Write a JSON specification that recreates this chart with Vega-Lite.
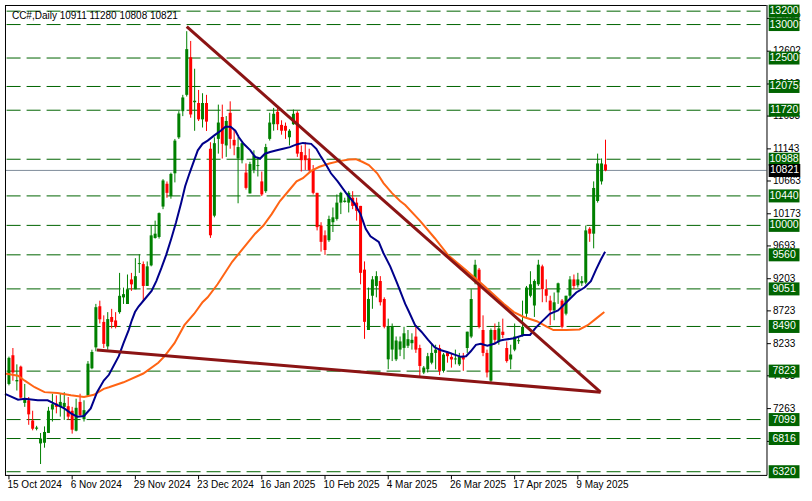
{
"$schema":"https://vega.github.io/schema/vega-lite/v6.json",
"width":812,"height":501,"autosize":"none",
"padding":0,
"background":"#ffffff",
"config":{"view":{"stroke":null},"font":"Liberation Sans"},
"datasets":{
"candles":[
{"i":0,"o":7631,"h":8040,"l":7610,"c":8021},{"i":1,"o":8060,"h":8168,"l":7680,"c":7802},{"i":2,"o":7670,"h":7924,"l":7533,"c":7690},{"i":3,"o":7890,"h":7905,"l":7412,"c":7426},{"i":4,"o":7348,"h":7631,"l":7289,"c":7397},{"i":5,"o":7387,"h":7436,"l":7021,"c":7177},{"i":6,"o":7084,"h":7231,"l":6938,"c":6962},{"i":7,"o":6962,"h":7006,"l":6938,"c":6980},{"i":8,"o":6743,"h":6899,"l":6435,"c":6816},{"i":9,"o":6753,"h":6997,"l":6679,"c":6914},
{"i":10,"o":6899,"h":7289,"l":6899,"c":7231},{"i":11,"o":7250,"h":7485,"l":7070,"c":7328},{"i":12,"o":7338,"h":7460,"l":7192,"c":7289},{"i":13,"o":7289,"h":7485,"l":7143,"c":7363},{"i":14,"o":7289,"h":7509,"l":7094,"c":7348},{"i":15,"o":7299,"h":7436,"l":7094,"c":7143},{"i":16,"o":7231,"h":7289,"l":6889,"c":6948},{"i":17,"o":6933,"h":7411,"l":6923,"c":7275},{"i":18,"o":7363,"h":7485,"l":7143,"c":7167},{"i":19,"o":7104,"h":7387,"l":7070,"c":7240},
{"i":20,"o":7460,"h":7973,"l":7436,"c":7934},{"i":21,"o":7865,"h":8143,"l":7851,"c":8109},{"i":22,"o":8178,"h":8827,"l":8119,"c":8778},{"i":23,"o":8792,"h":8875,"l":8534,"c":8597},{"i":24,"o":8558,"h":8656,"l":8168,"c":8230},{"i":25,"o":8192,"h":8704,"l":8143,"c":8600},{"i":26,"o":8631,"h":8753,"l":8461,"c":8558},{"i":27,"o":8580,"h":8704,"l":8461,"c":8485},{"i":28,"o":8704,"h":9290,"l":8680,"c":8948},{"i":29,"o":8924,"h":9070,"l":8826,"c":8973},
{"i":30,"o":8826,"h":9266,"l":8826,"c":9046},{"i":31,"o":9192,"h":9290,"l":9022,"c":9119},{"i":32,"o":9046,"h":9510,"l":9046,"c":9241},{"i":33,"o":9422,"h":9568,"l":9290,"c":9436},{"i":34,"o":9422,"h":9461,"l":8865,"c":9095},{"i":35,"o":9095,"h":9461,"l":9095,"c":9388},{"i":36,"o":9402,"h":9998,"l":9388,"c":9851},{"i":37,"o":9812,"h":10071,"l":9802,"c":9876},{"i":38,"o":9827,"h":10193,"l":9802,"c":10183},{"i":39,"o":10281,"h":10691,"l":10242,"c":10671},
{"i":40,"o":10622,"h":10656,"l":10412,"c":10486},{"i":41,"o":10437,"h":10788,"l":10398,"c":10769},{"i":42,"o":10778,"h":11291,"l":10642,"c":11266},{"i":43,"o":11315,"h":11706,"l":11291,"c":11671},{"i":44,"o":11706,"h":11950,"l":11632,"c":11911},{"i":45,"o":11950,"h":12901,"l":11925,"c":12633},{"i":46,"o":12511,"h":12755,"l":11608,"c":11657},{"i":47,"o":11840,"h":12340,"l":11413,"c":11862},{"i":48,"o":11828,"h":12023,"l":11559,"c":11584},{"i":49,"o":11584,"h":11974,"l":11462,"c":11828},
{"i":50,"o":11828,"h":11950,"l":11410,"c":11550},{"i":51,"o":11145,"h":11242,"l":9813,"c":9852},{"i":52,"o":10145,"h":11316,"l":10120,"c":11228},{"i":53,"o":11292,"h":11804,"l":11072,"c":11536},{"i":54,"o":11619,"h":11804,"l":10999,"c":11218},{"i":55,"o":11194,"h":11633,"l":11023,"c":11560},{"i":56,"o":11682,"h":11853,"l":11145,"c":11292},{"i":57,"o":11277,"h":11438,"l":11048,"c":11194},{"i":58,"o":10999,"h":11316,"l":10330,"c":11170},{"i":59,"o":10974,"h":11243,"l":10926,"c":11228},
{"i":60,"o":10789,"h":10926,"l":10535,"c":10560},{"i":61,"o":10477,"h":10950,"l":10477,"c":10916},{"i":62,"o":10828,"h":11121,"l":10779,"c":11048},{"i":63,"o":10886,"h":11023,"l":10730,"c":10900},{"i":64,"o":10657,"h":10804,"l":10438,"c":10462},{"i":65,"o":10511,"h":11218,"l":10486,"c":11170},{"i":66,"o":11292,"h":11682,"l":11267,"c":11536},{"i":67,"o":11511,"h":11755,"l":11414,"c":11667},{"i":68,"o":11697,"h":11755,"l":11423,"c":11511},{"i":69,"o":11501,"h":11570,"l":11355,"c":11414},
{"i":70,"o":11487,"h":11536,"l":11292,"c":11414},{"i":71,"o":11316,"h":11438,"l":11194,"c":11414},{"i":72,"o":11511,"h":11731,"l":11501,"c":11667},{"i":73,"o":11682,"h":11706,"l":11023,"c":11072},{"i":74,"o":11096,"h":11194,"l":10804,"c":10974},{"i":75,"o":11048,"h":11243,"l":10828,"c":10974},{"i":76,"o":10999,"h":11145,"l":10804,"c":10828},{"i":77,"o":10828,"h":10901,"l":10462,"c":10486},{"i":78,"o":10486,"h":10486,"l":9925,"c":9974},{"i":79,"o":9998,"h":10047,"l":9608,"c":9754},
{"i":80,"o":9852,"h":9925,"l":9559,"c":9632},{"i":81,"o":9779,"h":10145,"l":9754,"c":10096},{"i":82,"o":10047,"h":10267,"l":9901,"c":10120},{"i":83,"o":10096,"h":10462,"l":10071,"c":10340},{"i":84,"o":10340,"h":10501,"l":10169,"c":10486},{"i":85,"o":10350,"h":10413,"l":10340,"c":10370},{"i":86,"o":10340,"h":10511,"l":10193,"c":10486},{"i":87,"o":10413,"h":10511,"l":10242,"c":10291},{"i":88,"o":10340,"h":10413,"l":10071,"c":10218},{"i":89,"o":10291,"h":10291,"l":9120,"c":9291},
{"i":90,"o":9339,"h":9462,"l":8305,"c":8559},{"i":91,"o":8437,"h":9071,"l":8437,"c":8901},{"i":92,"o":8949,"h":9242,"l":8754,"c":9193},{"i":93,"o":9095,"h":9315,"l":8925,"c":9242},{"i":94,"o":9169,"h":9242,"l":8803,"c":8852},{"i":95,"o":8900,"h":8925,"l":8461,"c":8485},{"i":96,"o":7999,"h":8607,"l":7851,"c":8485},{"i":97,"o":8145,"h":8534,"l":7973,"c":8485},{"i":98,"o":7999,"h":8340,"l":7973,"c":8280},{"i":99,"o":8145,"h":8340,"l":8047,"c":8267},
{"i":100,"o":8170,"h":8485,"l":8000,"c":8388},{"i":101,"o":8202,"h":8437,"l":8168,"c":8300},{"i":102,"o":8240,"h":8388,"l":8144,"c":8290},{"i":103,"o":8339,"h":8510,"l":8095,"c":8144},{"i":104,"o":8168,"h":8217,"l":7744,"c":7900},{"i":105,"o":7802,"h":7900,"l":7778,"c":7876},{"i":106,"o":7851,"h":8095,"l":7802,"c":8046},{"i":107,"o":7949,"h":8241,"l":7924,"c":8095},{"i":108,"o":8095,"h":8217,"l":7851,"c":8144},{"i":109,"o":8168,"h":8217,"l":7763,"c":7827},
{"i":110,"o":7827,"h":8095,"l":7802,"c":8071},{"i":111,"o":8095,"h":8120,"l":7949,"c":8046},{"i":112,"o":8036,"h":8095,"l":7875,"c":7997},{"i":113,"o":7997,"h":8144,"l":7924,"c":8012},{"i":114,"o":7924,"h":8095,"l":7900,"c":8036},{"i":115,"o":8046,"h":8095,"l":7827,"c":7997},{"i":116,"o":8168,"h":8412,"l":8095,"c":8412},{"i":117,"o":8339,"h":9047,"l":8315,"c":8900},{"i":118,"o":9169,"h":9486,"l":9120,"c":9412},{"i":119,"o":9339,"h":9364,"l":8461,"c":8485},
{"i":120,"o":8437,"h":8656,"l":8046,"c":8095},{"i":121,"o":8095,"h":8144,"l":7729,"c":7802},{"i":122,"o":7680,"h":8461,"l":7632,"c":8437},{"i":123,"o":8437,"h":8534,"l":8217,"c":8290},{"i":124,"o":8266,"h":8559,"l":8217,"c":8461},{"i":125,"o":8412,"h":8607,"l":8315,"c":8363},{"i":126,"o":8168,"h":8266,"l":7949,"c":7973},{"i":127,"o":7997,"h":8217,"l":7851,"c":8071},{"i":128,"o":8144,"h":8534,"l":8120,"c":8339},{"i":129,"o":8270,"h":8330,"l":8230,"c":8285},
{"i":130,"o":8363,"h":8876,"l":8339,"c":8485},{"i":131,"o":8681,"h":9095,"l":8632,"c":9071},{"i":132,"o":8949,"h":9315,"l":8925,"c":9120},{"i":133,"o":8803,"h":9193,"l":8632,"c":9169},{"i":134,"o":9120,"h":9486,"l":9095,"c":9413},{"i":135,"o":9388,"h":9413,"l":8852,"c":9047},{"i":136,"o":9047,"h":9193,"l":8852,"c":8949},{"i":137,"o":8876,"h":8949,"l":8510,"c":8730},{"i":138,"o":8730,"h":8998,"l":8583,"c":8851},{"i":139,"o":8998,"h":9145,"l":8827,"c":9135},
{"i":140,"o":8876,"h":8900,"l":8461,"c":8485},{"i":141,"o":8681,"h":8949,"l":8656,"c":8949},{"i":142,"o":8949,"h":9242,"l":8900,"c":9193},{"i":143,"o":9193,"h":9266,"l":9047,"c":9095},{"i":144,"o":9105,"h":9291,"l":9071,"c":9193},{"i":145,"o":9135,"h":9242,"l":9095,"c":9169},{"i":146,"o":9145,"h":9998,"l":9120,"c":9925},{"i":147,"o":9950,"h":9974,"l":9754,"c":9876},{"i":148,"o":9876,"h":10657,"l":9657,"c":10559},{"i":149,"o":10364,"h":11072,"l":10340,"c":10925},
{"i":150,"o":10657,"h":11000,"l":10610,"c":10925},{"i":151,"o":10911,"h":11280,"l":10808,"c":10821}
],
"fast":[
{"i":-1,"v":7484},{"i":2.3,"v":7397},{"i":4,"v":7411},{"i":7.3,"v":7388},{"i":9.8,"v":7388},{"i":11.5,"v":7338},{"i":14,"v":7265},{"i":15.7,"v":7192},{"i":17.3,"v":7143},{"i":19,"v":7153},{"i":20.7,"v":7265},{"i":22.3,"v":7509},{"i":24,"v":7681},{"i":25.3,"v":7768},{"i":27.8,"v":8046},{"i":29,"v":8241},{"i":30.3,"v":8436},{"i":31.1,"v":8582},{"i":31.9,"v":8705},{"i":32.8,"v":8787},{"i":34.4,"v":8900},{"i":36.1,"v":9022},{"i":37.3,"v":9168},{"i":38.6,"v":9364},{"i":39.8,"v":9559},{"i":41.1,"v":9803},{"i":42.3,"v":10046},{"i":43.6,"v":10339},{"i":44.6,"v":10584},{"i":45.7,"v":10778},{"i":46.9,"v":10975},{"i":47.8,"v":11121},{"i":49,"v":11218},{"i":50.3,"v":11267},{"i":51.9,"v":11340},{"i":53.6,"v":11414},{"i":54.8,"v":11472},{"i":56.1,"v":11472},{"i":57.3,"v":11414},{"i":58.2,"v":11316},{"i":59.4,"v":11218},{"i":61.1,"v":11121},{"i":62.3,"v":11023},{"i":63.6,"v":10998},{"i":64.8,"v":11071},{"i":66.1,"v":11096},{"i":67.8,"v":11121},{"i":69.4,"v":11144},{"i":71.1,"v":11169},{"i":72.8,"v":11209},{"i":74.4,"v":11232},{"i":76.5,"v":11218},{"i":77.8,"v":11144},{"i":79,"v":11023},{"i":80.3,"v":10901},{"i":81.5,"v":10778},{"i":83.2,"v":10657},{"i":85.3,"v":10485},{"i":87.3,"v":10339},{"i":89,"v":10169},{"i":90.3,"v":9950},{"i":91.5,"v":9837},{"i":93.6,"v":9754},{"i":94.8,"v":9584},{"i":96.5,"v":9388},{"i":98.2,"v":9144},{"i":100.3,"v":8827},{"i":101.1,"v":8729},{"i":102.8,"v":8509},{"i":104.4,"v":8412},{"i":106.1,"v":8289},{"i":107.8,"v":8178},{"i":109.4,"v":8134},{"i":111.1,"v":8105},{"i":112.8,"v":8070},{"i":114.4,"v":8036},{"i":115.7,"v":8046},{"i":116.9,"v":8119},{"i":118.2,"v":8216},{"i":119.4,"v":8231},{"i":121.1,"v":8202},{"i":122.8,"v":8231},{"i":124.4,"v":8281},{"i":125.3,"v":8290},{"i":127.8,"v":8314},{"i":130.3,"v":8363},{"i":131.9,"v":8363},{"i":133.2,"v":8461},{"i":134.8,"v":8559},{"i":136.9,"v":8680},{"i":139,"v":8729},{"i":141.1,"v":8852},{"i":143.6,"v":8998},{"i":145.7,"v":9071},{"i":147.3,"v":9168},{"i":148.6,"v":9339},{"i":149.8,"v":9486},{"i":150.9,"v":9607}
],
"slow":[
{"i":-1,"v":7787},{"i":2.3,"v":7754},{"i":4,"v":7680},{"i":6.5,"v":7582},{"i":9,"v":7509},{"i":12.3,"v":7495},{"i":15.7,"v":7461},{"i":19,"v":7436},{"i":21.5,"v":7470},{"i":24,"v":7558},{"i":25.3,"v":7582},{"i":29,"v":7656},{"i":34,"v":7787},{"i":37.8,"v":7948},{"i":39.4,"v":8046},{"i":41.9,"v":8241},{"i":44.4,"v":8509},{"i":46.9,"v":8680},{"i":49,"v":8852},{"i":50.3,"v":8925},{"i":52.8,"v":9120},{"i":56.5,"v":9456},{"i":60.3,"v":9730},{"i":62.3,"v":9876},{"i":64.4,"v":9998},{"i":66.5,"v":10169},{"i":68.6,"v":10364},{"i":70.7,"v":10510},{"i":72.8,"v":10657},{"i":74.4,"v":10705},{"i":76.5,"v":10813},{"i":78.6,"v":10876},{"i":81.1,"v":10925},{"i":83.6,"v":10960},{"i":86.1,"v":10983},{"i":87.8,"v":10989},{"i":89.4,"v":10950},{"i":91.1,"v":10901},{"i":93.2,"v":10778},{"i":94.8,"v":10632},{"i":96.9,"v":10486},{"i":99,"v":10364},{"i":100.3,"v":10305},{"i":104,"v":10071},{"i":107.8,"v":9808},{"i":111.1,"v":9559},{"i":115.5,"v":9339},{"i":120.3,"v":9095},{"i":122.8,"v":8959},{"i":125.3,"v":8827},{"i":127.8,"v":8705},{"i":130.3,"v":8632},{"i":133.6,"v":8568},{"i":136.1,"v":8486},{"i":137.8,"v":8436},{"i":141.1,"v":8436},{"i":144.4,"v":8446},{"i":146.5,"v":8509},{"i":148.6,"v":8607},{"i":150.7,"v":8705}
],
"trend":[
{"line":"upper","i":45,"v":12970},{"line":"upper","i":149.75,"v":7509},
{"line":"lower","i":22.25,"v":8139},{"line":"lower","i":149.75,"v":7509}
],
"levels":[{"v":13200},{"v":13000},{"v":12500},{"v":12075},{"v":11720},{"v":10988},{"v":10440},{"v":10000},{"v":9560},{"v":9051},{"v":8490},{"v":7823},{"v":7099},{"v":6816},{"v":6320}],
"price":[{"v":10821}],
"yticks":[{"v":6773},{"v":7263},{"v":7753},{"v":8233},{"v":8723},{"v":9203},{"v":9693},{"v":10173},{"v":10663},{"v":11143},{"v":11633},{"v":12112},{"v":12602},{"v":13092}],
"xticks":[{"i":0,"d":"15 Oct 2024"},{"i":16,"d":"6 Nov 2024"},{"i":32,"d":"29 Nov 2024"},{"i":48,"d":"23 Dec 2024"},{"i":64,"d":"16 Jan 2025"},{"i":80,"d":"10 Feb 2025"},{"i":96,"d":"4 Mar 2025"},{"i":112,"d":"26 Mar 2025"},{"i":128,"d":"17 Apr 2025"},{"i":144,"d":"9 May 2025"}]
},
"layer":[
{"data":{"name":"levels"},
 "mark":{"type":"rule","stroke":"#006400","strokeWidth":1,"strokeDash":[14,6]},
 "encoding":{
  "x":{"datum":-0.6,"type":"quantitative","scale":{"domain":[-1,202],"nice":false,"zero":false},"axis":null},
  "x2":{"datum":191.75},
  "y":{"field":"v","type":"quantitative","scale":{"domain":[5957.4,13292],"nice":false,"zero":false},"axis":null}}},
{"data":{"name":"price"},
 "mark":{"type":"rule","stroke":"#7f8c9a","strokeWidth":1},
 "encoding":{
  "x":{"datum":-1,"type":"quantitative","scale":{"domain":[-1,202],"nice":false,"zero":false},"axis":null},
  "x2":{"datum":191.75},
  "y":{"field":"v","type":"quantitative","scale":{"domain":[5957.4,13292],"nice":false,"zero":false},"axis":null}}},
{"data":{"name":"candles"},
 "mark":{"type":"rule","strokeWidth":1},
 "encoding":{
  "x":{"field":"i","type":"quantitative","scale":{"domain":[-1,202],"nice":false,"zero":false},"axis":null},
  "y":{"field":"l","type":"quantitative","scale":{"domain":[5957.4,13292],"nice":false,"zero":false},"axis":null},
  "y2":{"field":"h"},
  "color":{"condition":{"test":"datum.c >= datum.o","value":"#008000"},"value":"#ff0000"}}},
{"data":{"name":"candles"},
 "mark":{"type":"bar","width":3},
 "encoding":{
  "x":{"field":"i","type":"quantitative","scale":{"domain":[-1,202],"nice":false,"zero":false},"axis":null},
  "y":{"field":"o","type":"quantitative","scale":{"domain":[5957.4,13292],"nice":false,"zero":false},"axis":null},
  "y2":{"field":"c"},
  "color":{"condition":{"test":"datum.c >= datum.o","value":"#008000"},"value":"#ff0000"}}},
{"data":{"name":"slow"},
 "mark":{"type":"line","stroke":"#ff6414","strokeWidth":2},
 "encoding":{
  "x":{"field":"i","type":"quantitative","scale":{"domain":[-1,202],"nice":false,"zero":false},"axis":null},
  "y":{"field":"v","type":"quantitative","scale":{"domain":[5957.4,13292],"nice":false,"zero":false},"axis":null}}},
{"data":{"name":"fast"},
 "mark":{"type":"line","stroke":"#00008b","strokeWidth":2},
 "encoding":{
  "x":{"field":"i","type":"quantitative","scale":{"domain":[-1,202],"nice":false,"zero":false},"axis":null},
  "y":{"field":"v","type":"quantitative","scale":{"domain":[5957.4,13292],"nice":false,"zero":false},"axis":null}}},
{"data":{"name":"trend"},
 "mark":{"type":"line","stroke":"#8b1414","strokeWidth":3},
 "encoding":{
  "x":{"field":"i","type":"quantitative","scale":{"domain":[-1,202],"nice":false,"zero":false},"axis":null},
  "y":{"field":"v","type":"quantitative","scale":{"domain":[5957.4,13292],"nice":false,"zero":false},"axis":null},
  "detail":{"field":"line"}}},
{"data":{"values":[{"side":"top"}]},
 "mark":{"type":"rule","stroke":"#000000","strokeWidth":1},
 "encoding":{
  "x":{"datum":-1,"type":"quantitative","scale":{"domain":[-1,202],"nice":false,"zero":false},"axis":null},
  "x2":{"datum":191.75},
  "y":{"datum":13284.7,"type":"quantitative","scale":{"domain":[5957.4,13292],"nice":false,"zero":false},"axis":null}}},
{"data":{"values":[{"side":"bottom"}]},
 "mark":{"type":"rule","stroke":"#000000","strokeWidth":1},
 "encoding":{
  "x":{"datum":-1,"type":"quantitative","scale":{"domain":[-1,202],"nice":false,"zero":false},"axis":null},
  "x2":{"datum":191.875},
  "y":{"datum":6265,"type":"quantitative","scale":{"domain":[5957.4,13292],"nice":false,"zero":false},"axis":null}}},
{"data":{"values":[{"side":"left"}]},
 "mark":{"type":"rule","stroke":"#000000","strokeWidth":1},
 "encoding":{
  "x":{"datum":-0.875,"type":"quantitative","scale":{"domain":[-1,202],"nice":false,"zero":false},"axis":null},
  "y":{"datum":13292,"type":"quantitative","scale":{"domain":[5957.4,13292],"nice":false,"zero":false},"axis":null},
  "y2":{"datum":6265}}},
{"data":{"values":[{"side":"right"}]},
 "mark":{"type":"rule","stroke":"#000000","strokeWidth":1},
 "encoding":{
  "x":{"datum":191.875,"type":"quantitative","scale":{"domain":[-1,202],"nice":false,"zero":false},"axis":null},
  "y":{"datum":13292,"type":"quantitative","scale":{"domain":[5957.4,13292],"nice":false,"zero":false},"axis":null},
  "y2":{"datum":6265}}},
{"data":{"name":"yticks"},
 "mark":{"type":"rule","stroke":"#000000","strokeWidth":1},
 "encoding":{
  "x":{"datum":191.875,"type":"quantitative","scale":{"domain":[-1,202],"nice":false,"zero":false},"axis":null},
  "x2":{"datum":192.875},
  "y":{"field":"v","type":"quantitative","scale":{"domain":[5957.4,13292],"nice":false,"zero":false},"axis":null}}},
{"data":{"name":"yticks"},
 "mark":{"type":"text","fill":"#000000","font":"Liberation Sans","fontSize":10,"align":"left","baseline":"middle"},
 "encoding":{
  "x":{"datum":193.4,"type":"quantitative","scale":{"domain":[-1,202],"nice":false,"zero":false},"axis":null},
  "y":{"field":"v","type":"quantitative","scale":{"domain":[5957.4,13292],"nice":false,"zero":false},"axis":null},
  "text":{"field":"v","type":"quantitative","format":"d"}}},
{"data":{"name":"xticks"},
 "mark":{"type":"rule","stroke":"#000000","strokeWidth":1},
 "encoding":{
  "x":{"field":"i","type":"quantitative","scale":{"domain":[-1,202],"nice":false,"zero":false},"axis":null},
  "y":{"datum":6265,"type":"quantitative","scale":{"domain":[5957.4,13292],"nice":false,"zero":false},"axis":null},
  "y2":{"datum":6206}}},
{"data":{"name":"xticks"},
 "mark":{"type":"text","fill":"#000000","font":"Liberation Sans","fontSize":10,"align":"left","baseline":"middle","dx":-1.5},
 "encoding":{
  "x":{"field":"i","type":"quantitative","scale":{"domain":[-1,202],"nice":false,"zero":false},"axis":null},
  "y":{"datum":6118,"type":"quantitative","scale":{"domain":[5957.4,13292],"nice":false,"zero":false},"axis":null},
  "text":{"field":"d"}}},
{"data":{"name":"levels"},
 "mark":{"type":"bar","orient":"horizontal","height":13,"color":"#006400"},
 "encoding":{
  "x":{"datum":192.3,"type":"quantitative","scale":{"domain":[-1,202],"nice":false,"zero":false},"axis":null},
  "x2":{"datum":200.1},
  "y":{"field":"v","type":"quantitative","scale":{"domain":[5957.4,13292],"nice":false,"zero":false},"axis":null}}},
{"data":{"name":"price"},
 "mark":{"type":"bar","orient":"horizontal","height":13,"color":"#000000"},
 "encoding":{
  "x":{"datum":192.3,"type":"quantitative","scale":{"domain":[-1,202],"nice":false,"zero":false},"axis":null},
  "x2":{"datum":200.3},
  "y":{"field":"v","type":"quantitative","scale":{"domain":[5957.4,13292],"nice":false,"zero":false},"axis":null}}},
{"data":{"name":"levels"},
 "mark":{"type":"text","fill":"#ffffff","font":"Liberation Sans","fontSize":10.5,"align":"center","baseline":"middle"},
 "encoding":{
  "x":{"datum":196.2,"type":"quantitative","scale":{"domain":[-1,202],"nice":false,"zero":false},"axis":null},
  "y":{"field":"v","type":"quantitative","scale":{"domain":[5957.4,13292],"nice":false,"zero":false},"axis":null},
  "text":{"field":"v","type":"quantitative","format":"d"}}},
{"data":{"name":"price"},
 "mark":{"type":"text","fill":"#ffffff","font":"Liberation Sans","fontSize":10.5,"align":"center","baseline":"middle"},
 "encoding":{
  "x":{"datum":196.3,"type":"quantitative","scale":{"domain":[-1,202],"nice":false,"zero":false},"axis":null},
  "y":{"field":"v","type":"quantitative","scale":{"domain":[5957.4,13292],"nice":false,"zero":false},"axis":null},
  "text":{"field":"v","type":"quantitative","format":"d"}}},
{"data":{"values":[{"t":"CC#,Daily  10911 11280 10808 10821"}]},
 "mark":{"type":"text","fill":"#000000","font":"Liberation Sans","fontSize":10,"align":"left","baseline":"middle"},
 "encoding":{
  "x":{"datum":0.75,"type":"quantitative","scale":{"domain":[-1,202],"nice":false,"zero":false},"axis":null},
  "y":{"datum":13135,"type":"quantitative","scale":{"domain":[5957.4,13292],"nice":false,"zero":false},"axis":null},
  "text":{"field":"t"}}}
]
}
